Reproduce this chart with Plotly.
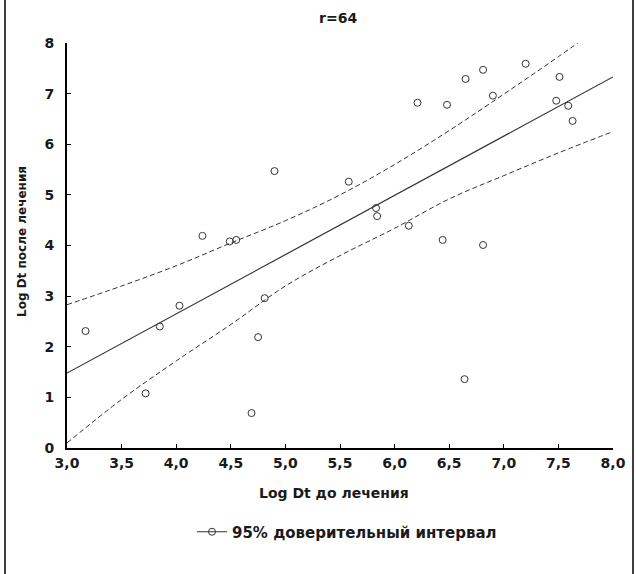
import plotly.graph_objects as go

# ---- data ----
x_before = [3.17, 3.85, 4.03, 3.72, 4.24, 4.49, 4.55, 4.81, 4.75, 4.69, 4.90,
            5.58, 5.83, 5.84, 6.13, 6.21, 6.48, 6.65, 6.81, 6.90, 7.20, 7.51,
            7.48, 7.59, 7.63, 6.44, 6.81, 6.64]
y_after = [2.31, 2.40, 2.81, 1.08, 4.19, 4.08, 4.11, 2.96, 2.19, 0.69, 5.47,
           5.26, 4.74, 4.58, 4.39, 6.82, 6.78, 7.29, 7.47, 6.96, 7.59, 7.33,
           6.86, 6.76, 6.46, 4.11, 4.01, 1.36]

fit_x = [3.0, 8.0]
fit_y = [1.48, 7.33]

band_x = [3.0, 3.5, 4.0, 4.5, 5.0, 5.5, 6.0, 6.5, 7.0, 7.5, 8.0]
band_upper = [2.83, 3.20, 3.60, 4.05, 4.49, 5.00, 5.60, 6.27, 6.99, 7.73, 8.50]
band_lower = [0.10, 0.96, 1.72, 2.44, 3.20, 3.80, 4.34, 4.92, 5.38, 5.83, 6.25]

x_ticks = [3.0, 3.5, 4.0, 4.5, 5.0, 5.5, 6.0, 6.5, 7.0, 7.5, 8.0]
x_ticktext = ["3,0", "3,5", "4,0", "4,5", "5,0", "5,5", "6,0", "6,5", "7,0", "7,5", "8,0"]
y_ticks = [0, 1, 2, 3, 4, 5, 6, 7, 8]

title_text = "r=64"
x_title = "Log Dt до лечения"
y_title = "Log Dt после лечения"
legend_name = "95% доверительный интервал"

FONT = "DejaVu Sans"
INK = "#1a1a1a"

fig = go.Figure()

fig.add_trace(go.Scatter(x=band_x, y=band_upper, mode="lines", line_shape="spline",
                         line=dict(color="#333333", width=1, dash="5px,3px"),
                         showlegend=False, hoverinfo="skip"))
fig.add_trace(go.Scatter(x=band_x, y=band_lower, mode="lines", line_shape="spline",
                         line=dict(color="#333333", width=1, dash="5px,3px"),
                         showlegend=False, hoverinfo="skip"))
fig.add_trace(go.Scatter(x=fit_x, y=fit_y, mode="lines",
                         line=dict(color="#333333", width=1.2),
                         showlegend=False, hoverinfo="skip"))
fig.add_trace(go.Scatter(x=x_before, y=y_after, mode="markers",
                         marker=dict(symbol="circle-open", size=7, color="#333333",
                                     line=dict(width=1)),
                         showlegend=False))
fig.add_trace(go.Scatter(x=[None], y=[None], mode="lines+markers", name=legend_name,
                         line=dict(color="#333333", width=1),
                         marker=dict(symbol="circle-open", size=7, color="#333333",
                                     line=dict(width=1)),
                         showlegend=True))

L, R, T, B = 67, 23, 43, 126
W, H = 636, 574
pw, ph = W - L - R, H - T - B

def px_x(p):
    return (p - L) / pw

def px_y(p):
    return (H - B - p) / ph

fig.update_layout(
    width=W, height=H,
    margin=dict(l=L, r=R, t=T, b=B, autoexpand=False),
    paper_bgcolor="white", plot_bgcolor="white",
    font=dict(family=FONT, size=13, color=INK),
    showlegend=True,
    legend=dict(orientation="h", x=px_x(347), xanchor="center",
                y=px_y(532), yanchor="middle",
                font=dict(family=FONT, size=15, color=INK, weight="bold"),
                itemwidth=30, bgcolor="rgba(0,0,0,0)"),
    xaxis=dict(range=[3, 8], tickvals=x_ticks, ticktext=x_ticktext,
               showgrid=False, zeroline=False, showline=True, linecolor="black",
               linewidth=2, ticks="inside", ticklen=4, tickcolor="black",
               tickfont=dict(family=FONT, size=14, color=INK, weight="bold"),
               ticklabelstandoff=1),
    yaxis=dict(range=[0, 8], tickvals=y_ticks,
               showgrid=False, zeroline=False, showline=True, linecolor="black",
               linewidth=2, ticks="inside", ticklen=4, tickcolor="black",
               tickfont=dict(family=FONT, size=14, color=INK, weight="bold"),
               ticklabelstandoff=8),
    annotations=[
        dict(text=title_text, x=px_x(338), y=px_y(18), xref="paper", yref="paper",
             xanchor="center", yanchor="middle", showarrow=False,
             font=dict(family=FONT, size=14, color=INK, weight="bold")),
        dict(text=x_title, x=px_x(334), y=px_y(493), xref="paper", yref="paper",
             xanchor="center", yanchor="middle", showarrow=False,
             font=dict(family=FONT, size=14, color=INK, weight="bold")),
        dict(text=y_title, x=px_x(22), y=px_y(242), xref="paper", yref="paper",
             xanchor="center", yanchor="middle", textangle=-90, showarrow=False,
             font=dict(family=FONT, size=12, color=INK, weight="bold")),
    ],
    shapes=[
        dict(type="line", xref="paper", yref="paper", x0=px_x(5), x1=px_x(5),
             y0=px_y(0), y1=px_y(574), line=dict(color="black", width=1.5)),
        dict(type="line", xref="paper", yref="paper", x0=px_x(633), x1=px_x(633),
             y0=px_y(0), y1=px_y(574), line=dict(color="black", width=1.5)),
    ],
)

fig.write_html("out.html", config={"displayModeBar": False},
               post_script="document.body.style.margin='0';")
